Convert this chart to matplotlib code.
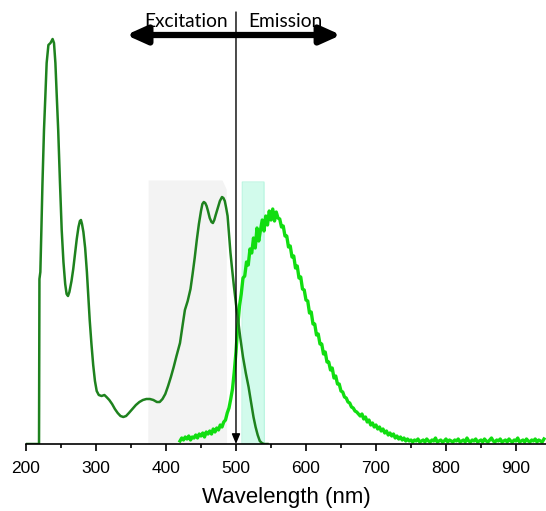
import matplotlib.pyplot as plt
import numpy as np

# excitation spectrum (nm, intensity in arbitrary units)
exc_nm = [200, 218.6, 219.2, 220.5, 222, 223.5, 225.7, 227.6, 229.5, 232, 235, 238, 240, 242,
          244, 246, 248.5, 251, 253.5, 256, 258, 260, 262, 265, 267.5, 270, 272.5, 275, 277,
          278.5, 280, 282, 284.5, 287, 289, 291, 293.5, 296, 298.5, 301, 304, 308, 312, 315,
          319, 323, 327, 331, 335, 339, 343, 347, 352, 357, 362, 367, 372, 377, 382, 387,
          391, 395, 399, 403, 407, 411, 415, 420, 424, 427, 431, 435, 438, 441, 444, 447,
          450, 452, 454, 456, 458, 460, 462.5, 465, 467, 469, 471, 474, 477, 480, 482, 484,
          486, 488, 490, 492, 494, 497, 500, 503, 506, 510, 514, 518, 521, 525, 528, 531,
          534, 537, 540, 545]
exc_val = [0, 0, 165, 172, 215, 260, 314, 347, 381, 399, 401, 405, 401, 381,
           347, 314, 262, 214, 182, 160, 150, 148, 152, 163, 175, 190, 205, 217, 223,
           224, 220, 212, 196, 172, 148, 124, 100, 79, 63, 53, 49, 48, 49, 47,
           44, 40, 35, 31, 28, 27, 28, 31, 35, 39, 42, 44, 45, 45, 44, 42,
           42, 45, 50, 58, 67, 77, 88, 101, 120, 134, 143, 155, 170, 186, 204, 220,
           233, 240, 242, 241, 238, 233, 226, 222, 221, 224, 229, 236, 243, 247, 246, 243,
           236, 228, 210, 192, 178, 158, 140, 124, 107, 87, 71, 57, 44, 27, 17, 9,
           3, 1, 0, 0]

# emission spectrum, every 2.5 nm from 420 to 940
em_val = [3, 6, 4, 7, 5, 8, 4, 7, 6, 9, 6, 10, 8, 11, 7, 12, 10, 13, 10, 15,
          12, 16, 14, 19, 17, 22, 24, 31, 36, 45, 55, 72, 92, 118, 138, 150, 166, 168, 182, 179,
          195, 191, 206, 196, 216, 203, 214, 224, 213, 228, 219, 233, 224, 235, 223, 232, 226, 225, 217, 218,
          208, 208, 197, 198, 187, 188, 176, 178, 166, 167, 155, 154, 144, 143, 131, 132, 120, 120, 109, 110,
          100, 100, 90, 92, 82, 82, 74, 76, 66, 68, 60, 60, 53, 52, 47, 46, 42, 41, 37, 36,
          33, 32, 30, 28, 30, 25, 27, 22, 24, 19, 21, 17, 19, 15, 17, 13, 15, 11, 13, 9,
          11, 8, 10, 6, 8, 5, 7, 4, 6, 3, 5, 3, 4, 2, 4, 3, 5, 2, 3, 4,
          2, 5, 3, 2, 4, 3, 6, 2, 3, 4, 2, 3, 5, 2, 4, 3, 2, 4, 3, 5,
          2, 3, 4, 2, 6, 3, 2, 4, 3, 5, 2, 3, 4, 2, 5, 3, 2, 4, 6, 3,
          2, 4, 3, 5, 2, 3, 4, 2, 5, 3, 2, 4, 3, 6, 2, 3, 4, 2, 5, 3,
          2, 4, 3, 5, 2, 4, 3, 2, 5]
em_nm = 420 + 2.5 * np.arange(len(em_val))

# filter bands
exc_filter_nm = [374, 374.5, 480, 486, 486.5]
exc_filter_val = [0, 264, 264, 255, 0]
em_filter_nm = [508.5, 509, 540, 540.5]
em_filter_val = [0, 262, 262, 0]

fig = plt.figure(figsize=(5.46, 5.11), dpi=100)
ax = fig.add_axes([26 / 546, 67 / 511, 520 / 546, 444 / 511])

ax.fill_between(exc_filter_nm, exc_filter_val, color='#f3f3f3', lw=0)
ax.fill_between(em_filter_nm, em_filter_val, color='#d2fbec', lw=0)
ax.plot(em_filter_nm, em_filter_val, color='#b8f5e0', lw=0.8)

ax.plot(em_nm, em_val, color='#11dd11', lw=2.4)
ax.plot(exc_nm, exc_val, color='#1e821e', lw=1.8)

# divider line with arrow at the axis
ax.annotate('', xy=(500, 0), xytext=(500, 432),
            arrowprops=dict(arrowstyle='-|>,head_length=0.6,head_width=0.25', color='black', lw=1,
                            mutation_scale=10, shrinkA=0, shrinkB=0))
# double arrow
ax.annotate('', xy=(343, 409), xytext=(650, 409),
            arrowprops=dict(arrowstyle='<|-|>,head_length=1.0,head_width=0.45', color='black', lw=4.5,
                            mutation_scale=12, shrinkA=0, shrinkB=0))
ax.text(429, 417, 'Excitation', ha='center', va='baseline', fontsize=13.8, family='Lato')
ax.text(570, 417, 'Emission', ha='center', va='baseline', fontsize=13.8, family='Lato')

ax.set_xlim(200, 942.9)
ax.set_ylim(0, 444)
ax.set_xticks(range(200, 1000, 100))
ax.set_xticks(range(250, 950, 100), minor=True)
ax.set_yticks([])
for s in ['top', 'right', 'left']:
    ax.spines[s].set_visible(False)
ax.spines['bottom'].set_linewidth(1.2)
ax.tick_params(axis='x', which='major', length=5, width=1.2, pad=7, labelsize=12.5)
ax.tick_params(axis='x', which='minor', length=3, width=1.2)
for lab in ax.get_xticklabels():
    lab.set_family('Liberation Sans')
ax.set_xlabel('Wavelength (nm)', fontsize=16, family='Liberation Sans', labelpad=8)

fig.savefig('out.png', dpi=100)
